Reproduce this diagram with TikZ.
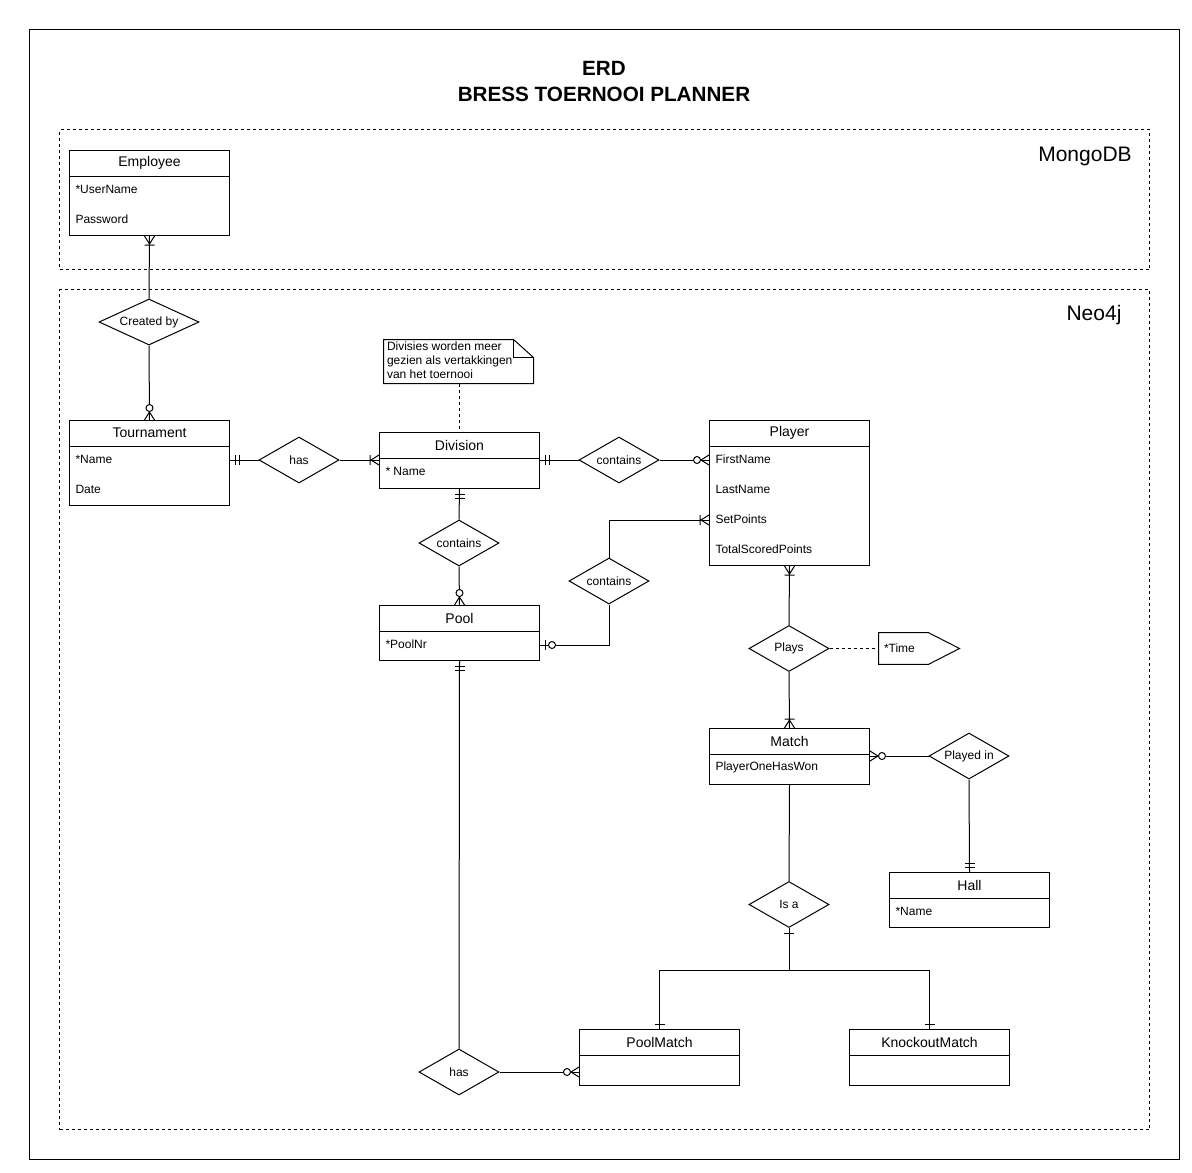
\documentclass[tikz,border=0pt]{standalone}
\usepackage{fontspec}
\setmainfont{Liberation Sans}
\usetikzlibrary{shapes.geometric,calc}

% ER notation marks: origin on the entity border, connector running along +x
\tikzset{
  erOneMany/.pic={\draw (0,-5) -- (8,0) -- (0,5) (9,-5) -- (9,5);},
  erZeroMany/.pic={\draw (0,-5) -- (8,0) -- (0,5); \draw[fill=white] (12,0) circle[radius=3.5];},
  erMandOne/.pic={\draw (5,-5) -- (5,5) (9,-5) -- (9,5);},
  erZeroOne/.pic={\draw (5,-5) -- (5,5); \draw[fill=white] (12,0) circle[radius=3.5];},
  erOne/.pic={\draw (5,-5) -- (5,5);},
  region/.style={draw, dash pattern=on 2.25pt off 2.25pt, anchor=north west, inner sep=0},
  regionlabel/.style={inner sep=0, font=\fontsize{15.75}{18}\selectfont},
  entity/.style={draw, rectangle, anchor=north west, inner sep=0, minimum width=120pt},
  enttitle/.style={inner sep=0, font=\fontsize{10.5}{12}\selectfont},
  attrtext/.style={inner sep=0, anchor=west, font=\fontsize{9}{11}\selectfont},
  rel/.style={draw, diamond, inner sep=0, shape aspect=1.74, minimum width=60pt,
    minimum height=34.5pt, fill=white, font=\fontsize{9}{11}\selectfont},
  dashlink/.style={dash pattern=on 2.25pt off 2.25pt},
}

% entity box with its header line and title
\newcommand{\erentity}[5]{%
  \node[entity, minimum height={#4*0.75pt}] (#1) at (#2,#3) {};
  \draw ($(#1.north west)+(0,26)$) -- ($(#1.north east)+(0,26)$);
  \node[enttitle] (#1-title) at ($(#1.north)+(0,13)$) {#5};
}
% attribute row of an entity, rows counted from 0
\newcommand{\erattr}[3]{%
  \node[attrtext] (#1-a#2) at ($(#1.north west)+(6,{39+30*#2})$) {#3};
}

\begin{document}
\begin{tikzpicture}[x=0.75pt, y=-0.75pt, line width=0.75pt]
\path[use as bounding box, fill=white] (0,0) rectangle (1192,1172);

% outer frame and title
\node[draw, anchor=north west, inner sep=0, minimum width=862.5pt, minimum height=847.5pt] (frame) at (29.3,29.3) {};
\node[align=center, inner sep=0, font=\bfseries\fontsize{15.5}{19.5}\selectfont] (title) at (604,81) {ERD\\BRESS TOERNOOI PLANNER};

% database regions
\node[region, minimum width=817.5pt, minimum height=105pt] (mongo) at (59.3,129.3) {};
\node[regionlabel] (mongo-label) at (1085,156) {MongoDB};
\node[region, minimum width=817.5pt, minimum height=630pt] (neo) at (59.3,289.3) {};
\node[regionlabel] (neo-label) at (1094,315) {Neo4j};

% entities
\erentity{emp}{69}{150}{85}{Employee}
\erattr{emp}{0}{*UserName}
\erattr{emp}{1}{Password}

\erentity{tour}{69}{420}{85}{Tournament}
\erattr{tour}{0}{*Name}
\erattr{tour}{1}{Date}

\erentity{div}{379}{432}{56}{Division}
\erattr{div}{0}{* Name}

\erentity{player}{709}{420}{145}{Player}
\erattr{player}{0}{FirstName}
\erattr{player}{1}{LastName}
\erattr{player}{2}{SetPoints}
\erattr{player}{3}{TotalScoredPoints}

\erentity{pool}{379}{605}{55}{Pool}
\erattr{pool}{0}{*PoolNr}

\erentity{match}{709}{728}{56}{Match}
\erattr{match}{0}{PlayerOneHasWon}

\erentity{hall}{889}{872}{55}{Hall}
\erattr{hall}{0}{*Name}

\erentity{pm}{579}{1029}{56}{PoolMatch}
\erentity{km}{849}{1029}{56}{KnockoutMatch}

% relationships
\node[rel, minimum width=75pt] (createdby) at (149,322) {Created by};
\node[rel] (has1) at (299,460) {has};
\node[rel] (c1) at (619,460) {contains};
\node[rel] (c2) at (459,543) {contains};
\node[rel] (c3) at (609,581) {contains};
\node[rel] (plays) at (789,648.5) {Plays};
\node[rel] (playedin) at (969,756) {Played in};
\node[rel] (isa) at (789,904.5) {Is a};
\node[rel] (has2) at (459,1072) {has};

% relationship attribute
\node[inner sep=0, minimum width=60pt, minimum height=23pt] (time) at (919,648.5) {};
\draw (time.north west) -- ($(time.north west)+(50,0)$) -- (time.east)
  -- ($(time.south west)+(50,0)$) -- (time.south west) -- cycle;
\node[attrtext] (time-text) at ($(time.west)+(5,0)$) {*Time};

% note
\node[inner sep=0, minimum width=111.75pt, minimum height=32.25pt] (note) at (458.5,361.5) {};
\draw (note.north west) -- ($(note.north east)+(-20,0)$) -- ($(note.north east)+(0,18)$)
  -- (note.south east) -- (note.south west) -- cycle;
\draw ($(note.north east)+(-20,0)$) -- ($(note.north east)+(-20,18)$) -- ($(note.north east)+(0,18)$);
\node[anchor=north west, inner sep=0, align=left, font=\fontsize{9}{10.5}\selectfont] (note-text)
  at ($(note.north west)+(3,2)$) {Divisies worden meer\\gezien als vertakkingen\\van het toernooi};
\draw[dashlink] (div.north |- note.south) -- (div.north);

% connectors
\coordinate (tourR) at (has1.west -| tour.east);
\coordinate (divL) at (has1.east -| div.west);
\coordinate (divR) at (c1.west -| div.east);
\coordinate (playerL1) at (c1.east -| player.west);
\coordinate (poolR) at ($(pool.north east)+(0,40)$);
\coordinate (playerL2) at ($(player.north west)+(0,100)$);
\coordinate (matchR) at (playedin.west -| match.east);
\coordinate (pmL) at (has2.east -| pm.west);
\coordinate (split) at ($(isa.south)+(0,42)$);

\draw (emp.south) -- (createdby.north);
\draw (createdby.south) -- (tour.north);
\draw (tourR) -- (has1.west);
\draw (has1.east) -- (divL);
\draw (divR) -- (c1.west);
\draw (c1.east) -- (playerL1);
\draw (div.south) -- (c2.north);
\draw (c2.south) -- (pool.north);
\draw (poolR) -| (c3.south);
\draw (c3.north) |- (playerL2);
\draw (player.south) -- (plays.north);
\draw (plays.south) -- (match.north);
\draw[dashlink] (plays.east) -- (time.west);
\draw (matchR) -- (playedin.west);
\draw (playedin.south) -- (hall.north);
\draw (match.south) -- (isa.north);
\draw (isa.south) -- (split);
\draw (pm.north) |- (split) -| (km.north);
\draw (pool.south) -- (has2.north);
\draw (has2.east) -- (pmL);

% cardinality marks
\pic[rotate=-90] at (emp.south) {erOneMany};
\pic[rotate=90] at (tour.north) {erZeroMany};
\pic at (tourR) {erMandOne};
\pic[rotate=180] at (divL) {erOneMany};
\pic at (divR) {erMandOne};
\pic[rotate=180] at (playerL1) {erZeroMany};
\pic[rotate=-90] at (div.south) {erMandOne};
\pic[rotate=90] at (pool.north) {erZeroMany};
\pic at (poolR) {erZeroOne};
\pic[rotate=180] at (playerL2) {erOneMany};
\pic[rotate=-90] at (player.south) {erOneMany};
\pic[rotate=90] at (match.north) {erOneMany};
\pic at (matchR) {erZeroMany};
\pic[rotate=90] at (hall.north) {erMandOne};
\pic[rotate=-90] at (isa.south) {erOne};
\pic[rotate=90] at (pm.north) {erOne};
\pic[rotate=90] at (km.north) {erOne};
\pic[rotate=-90] at (pool.south) {erMandOne};
\pic[rotate=180] at (pmL) {erZeroMany};
\end{tikzpicture}
\end{document}
